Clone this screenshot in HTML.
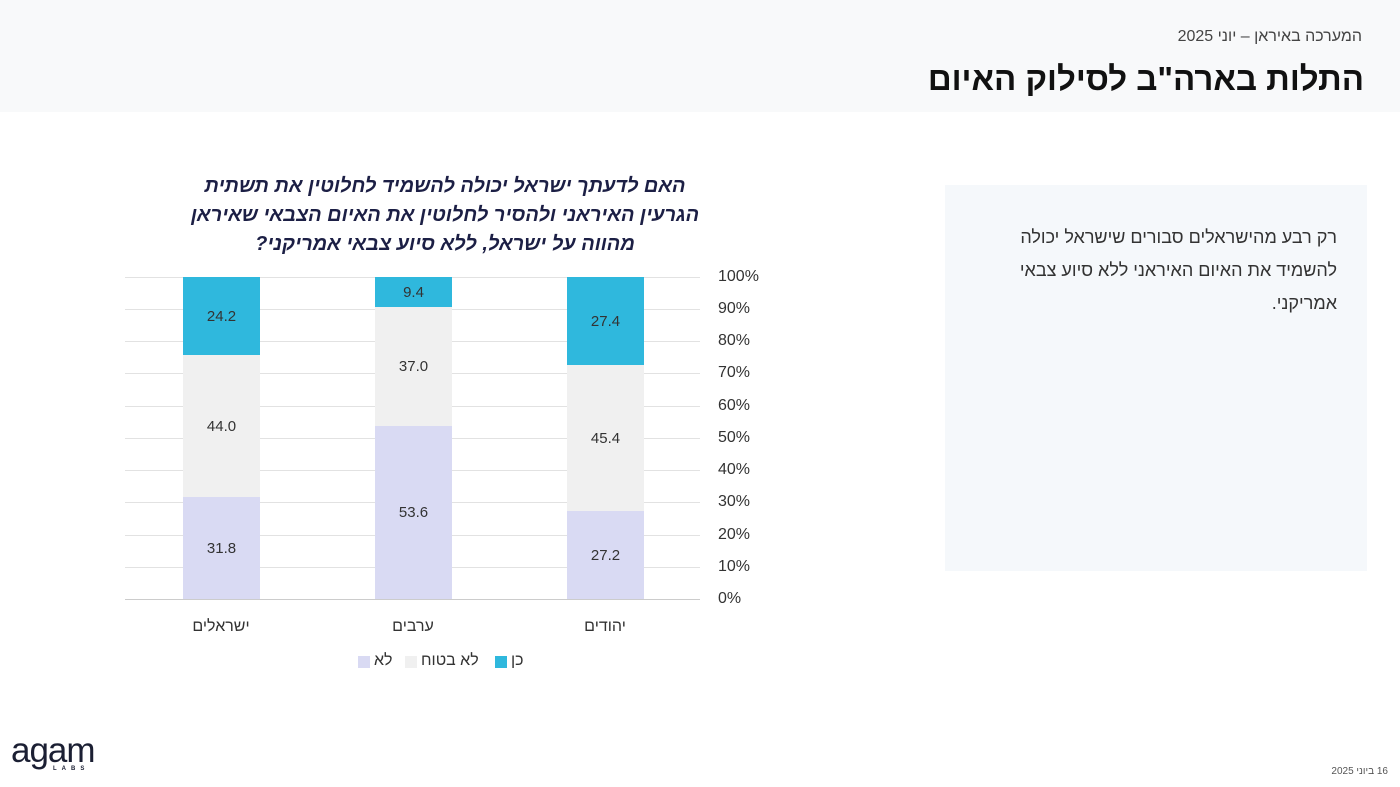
<!DOCTYPE html>
<html><head><meta charset="utf-8"><style>
*{margin:0;padding:0;box-sizing:border-box}
body{width:1400px;height:787px;background:#fff;position:relative;overflow:hidden;font-family:"Liberation Sans","Noto Sans CJK SC",sans-serif;color:#222}
.a{position:absolute}
.hdr{left:0;top:0;width:1400px;height:112px;background:#f8f9fa}
.sub{right:38px;top:28px;font-size:16px;color:#444;direction:rtl}
.ttl{right:36px;top:60px;font-size:33px;font-weight:bold;color:#111;direction:rtl}
.q{left:180px;width:530px;top:172px;text-align:center;direction:rtl;font-size:20px;font-weight:bold;font-style:italic;color:#1c1f45;line-height:29px}
.g{left:125px;width:575px;height:1px;background:#e2e2e2}
.t{left:718px;font-size:16px;color:#333;transform:translateY(-50%)}
.b{width:77px;display:flex;align-items:center;justify-content:center;font-size:15px;color:#333}
.cat{font-size:16px;color:#333;width:120px;text-align:center;top:618px}
.box{left:945px;top:185px;width:422px;height:386px;background:#f5f8fb}
.bt{right:63px;top:221px;width:340px;direction:rtl;text-align:right;font-size:18px;line-height:33px;color:#333}
</style></head><body>
<div class="a hdr"></div>
<div class="a sub">המערכה באיראן – יוני 2025</div>
<div class="a ttl">התלות בארה"ב לסילוק האיום</div>
<div class="a q">האם לדעתך ישראל יכולה להשמיד לחלוטין את תשתית<br>הגרעין האיראני ולהסיר לחלוטין את האיום הצבאי שאיראן<br>מהווה על ישראל, ללא סיוע צבאי אמריקני?</div>

<div class="a g" style="top:277px"></div>
<div class="a g" style="top:309px"></div>
<div class="a g" style="top:341px"></div>
<div class="a g" style="top:373px"></div>
<div class="a g" style="top:406px"></div>
<div class="a g" style="top:438px"></div>
<div class="a g" style="top:470px"></div>
<div class="a g" style="top:502px"></div>
<div class="a g" style="top:535px"></div>
<div class="a g" style="top:567px"></div>
<div class="a g" style="top:599px;background:#ccc"></div>

<div class="a t" style="top:277px">100%</div>
<div class="a t" style="top:309px">90%</div>
<div class="a t" style="top:341px">80%</div>
<div class="a t" style="top:373px">70%</div>
<div class="a t" style="top:406px">60%</div>
<div class="a t" style="top:438px">50%</div>
<div class="a t" style="top:470px">40%</div>
<div class="a t" style="top:502px">30%</div>
<div class="a t" style="top:535px">20%</div>
<div class="a t" style="top:567px">10%</div>
<div class="a t" style="top:599px">0%</div>

<div class="a b" style="left:183px;top:277px;height:78px;background:#2fb8dd">24.2</div>
<div class="a b" style="left:183px;top:355px;height:142px;background:#f0f0f0">44.0</div>
<div class="a b" style="left:183px;top:497px;height:102px;background:#d9daf3">31.8</div>

<div class="a b" style="left:375px;top:277px;height:30px;background:#2fb8dd">9.4</div>
<div class="a b" style="left:375px;top:307px;height:119px;background:#f0f0f0">37.0</div>
<div class="a b" style="left:375px;top:426px;height:173px;background:#d9daf3">53.6</div>

<div class="a b" style="left:567px;top:277px;height:88px;background:#2fb8dd">27.4</div>
<div class="a b" style="left:567px;top:365px;height:146px;background:#f0f0f0">45.4</div>
<div class="a b" style="left:567px;top:511px;height:88px;background:#d9daf3">27.2</div>

<div class="a cat" style="left:161px">ישראלים</div>
<div class="a cat" style="left:353px">ערבים</div>
<div class="a cat" style="left:545px">יהודים</div>

<div class="a" style="left:358px;top:656px;width:12px;height:12px;background:#d9daf3"></div>
<div class="a" style="left:374px;top:652px;font-size:16px;color:#333">לא</div>
<div class="a" style="left:405px;top:656px;width:12px;height:12px;background:#f0f0f0"></div>
<div class="a" style="left:421px;top:652px;font-size:16px;color:#333;direction:rtl">לא בטוח</div>
<div class="a" style="left:495px;top:656px;width:12px;height:12px;background:#2fb8dd"></div>
<div class="a" style="left:511px;top:652px;font-size:16px;color:#333">כן</div>

<div class="a box"></div>
<div class="a bt">רק רבע מהישראלים סבורים שישראל יכולה להשמיד את האיום האיראני ללא סיוע צבאי אמריקני.</div>

<div class="a" style="left:11px;top:733px;font-size:35px;color:#1b1f33;letter-spacing:-1px;line-height:35px">agam</div>
<div class="a" style="left:53px;top:766px;font-size:6px;letter-spacing:5px;color:#1b1f33;font-weight:bold">LABS</div>
<div class="a" style="right:12px;top:766px;font-size:10px;color:#555;direction:rtl">16 ביוני 2025</div>
</body></html>
